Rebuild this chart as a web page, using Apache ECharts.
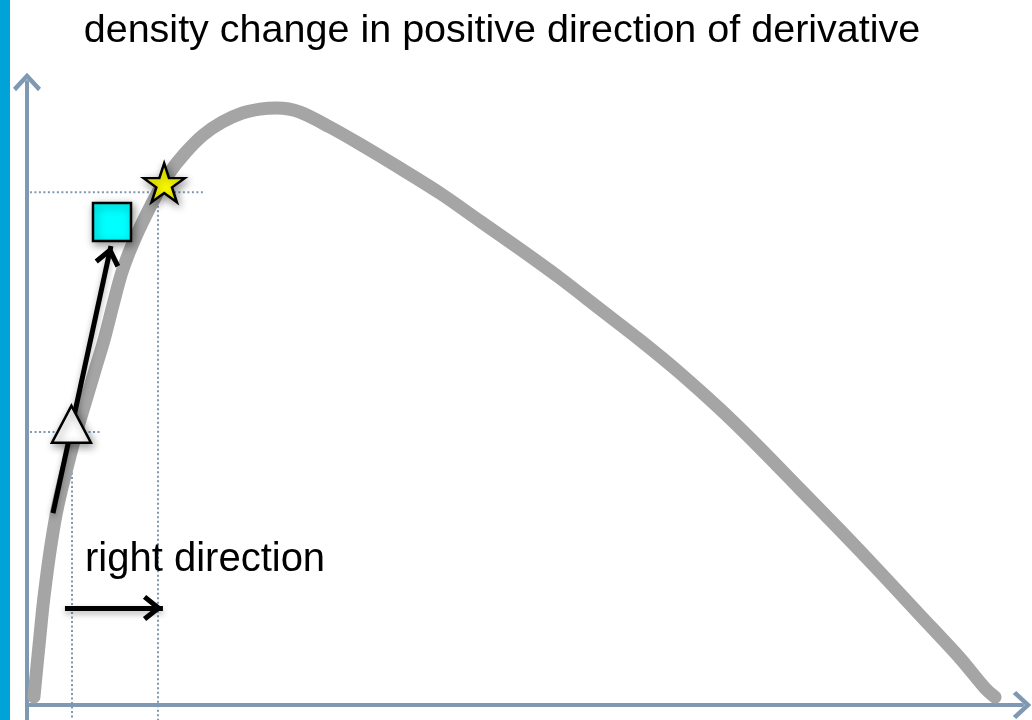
<!DOCTYPE html>
<html>
<head>
<meta charset="utf-8">
<script src="https://cdn.jsdelivr.net/npm/echarts@6/dist/echarts.min.js"></script>
<style>
  html, body { margin: 0; padding: 0; background: #ffffff; }
  #chart { width: 1032px; height: 720px; }
</style>
</head>
<body>
<div id="chart"></div>
<script>
// Density curve (x along the horizontal axis, y = density, peak ~ 1)
const curveX = [0.0072, 0.0104, 0.0135, 0.0166, 0.0207, 0.0248, 0.0300, 0.0362, 0.0435, 0.0518,
                0.0611, 0.0704, 0.0797, 0.0890, 0.0983, 0.1097, 0.1232, 0.1356, 0.1480, 0.1636,
                0.1822, 0.2019, 0.2226, 0.2412, 0.2588, 0.2826, 0.3137, 0.3447, 0.3861, 0.4275,
                0.4689, 0.5104, 0.5518, 0.5932, 0.6346, 0.6760, 0.7174, 0.7588, 0.8002, 0.8416,
                0.8830, 0.9244, 0.9658, 0.9917, 1.0021];
const curveY = [0.0134, 0.0671, 0.1174, 0.1677, 0.2214, 0.2683, 0.3186, 0.3639, 0.4109, 0.4612,
                0.5115, 0.5618, 0.6121, 0.6708, 0.7262, 0.7748, 0.8218, 0.8603, 0.8939, 0.9257,
                0.9559, 0.9777, 0.9928, 0.9995, 1.0012, 0.9945, 0.9693, 0.9408, 0.9005, 0.8586,
                0.8117, 0.7647, 0.7161, 0.6641, 0.6121, 0.5568, 0.4964, 0.4310, 0.3622, 0.2935,
                0.2230, 0.1509, 0.0788, 0.0285, 0.0134];

// Marked positions
const trianglePoint = [0.046, 0.471];
const squarePoint = [0.088, 0.810];
const starPoint = [0.142, 0.876];

// Dotted guides: corner point and horizontal extent
const starGuide = [0.1356, 0.860];
const starGuideSpan = [0.003, 0.184];
const triangleGuide = [0.0466, 0.458];
const triangleGuideSpan = [-0.0248, 0.0755];

// Arrows: [from, to]
const slopeArrow = [[0.0269, 0.322], [0.0869, 0.770]];
const stepArrow = [[0.0393, 0.163], [0.1407, 0.163]];

// Axis ranges
const xRange = [0, 1.03];
const yRange = [-0.025, 1.045];

const titleText = 'density change in positive direction of derivative';
const noteText = 'right direction';

const curveData = curveX.map((x, i) => [x, curveY[i]]);

// Open chevron heads (pointing up; rotated by the library along the line)
const axisHead = 'path://M14,0 L28,15 L25,18.5 L14,6.5 L3,18.5 L0,15 Z';
// tip sits at the centre of the box so it lands on the line end
const lineHead = 'path://M13,0 L13.01,0 Z M13,20 L26,36 L22.1,39.2 L13,27.9 L3.9,39.2 L0,36 Z';
const starShape = 'path://M50,0 L61.2,34.5 L97.6,34.5 L68.2,55.9 L79.4,90.5 L50,69.1 L20.6,90.5 L31.8,55.9 L2.4,34.5 L38.8,34.5 Z';

const guideColor = '#7f97b1';
const axisColor = '#7f99b3';
const FONT = '"Liberation Sans", Arial, Helvetica, sans-serif';

function guideSeries(corner, span) {
  const style = { color: guideColor, width: 2, type: [2, 2.5] };
  return [
    {
      type: 'line', silent: true, clip: false, symbol: 'none', z: 1,
      lineStyle: style,
      data: [[span[0], corner[1]], [span[1], corner[1]]]
    },
    {
      type: 'line', silent: true, clip: false, symbol: 'none', z: 1,
      lineStyle: style,
      data: [[corner[0], corner[1]], [corner[0], yRange[0]]]
    }
  ];
}

function arrowSeries(arrow) {
  return {
    type: 'line', silent: true, data: [], z: 4,
    markLine: {
      silent: true,
      animation: false,
      symbol: ['none', lineHead],
      symbolSize: [26, 40],
      label: { show: false },
      emphasis: { disabled: true },
      lineStyle: {
        color: '#000', width: 5, type: 'solid', opacity: 1,
        shadowBlur: 6, shadowColor: 'rgba(0,0,0,0.3)', shadowOffsetY: 3
      },
      data: [[{ coord: arrow[0] }, { coord: arrow[1] }]]
    }
  };
}

function markerStyle(fill) {
  return {
    color: fill, opacity: 1, borderColor: '#000', borderWidth: 2.5,
    shadowBlur: 8, shadowColor: 'rgba(0,0,0,0.4)', shadowOffsetX: 2, shadowOffsetY: 3
  };
}

const chart = echarts.init(document.getElementById('chart'), null, { renderer: 'canvas' });

chart.setOption({
  animation: false,
  backgroundColor: '#ffffff',
  grid: { left: 27, right: 10, top: 82, bottom: 0, outerBoundsMode: 'none', containLabel: false },
  xAxis: {
    type: 'value', min: xRange[0], max: xRange[1],
    axisLine: {
      show: true, onZero: true,
      symbol: ['none', axisHead], symbolSize: [28, 19],
      lineStyle: { color: axisColor, width: 4, cap: 'round' }
    },
    axisTick: { show: false }, axisLabel: { show: false }, splitLine: { show: false }
  },
  yAxis: {
    type: 'value', min: yRange[0], max: yRange[1],
    axisLine: {
      show: true, onZero: true,
      symbol: ['none', axisHead], symbolSize: [28, 19],
      lineStyle: { color: axisColor, width: 4, cap: 'round' }
    },
    axisTick: { show: false }, axisLabel: { show: false }, splitLine: { show: false }
  },
  graphic: [
    { type: 'rect', left: 0, top: 0, z: 10, shape: { width: 10, height: 720 }, style: { fill: '#00a3d7' } },
    {
      type: 'text', x: 502, y: 31, z: 10,
      style: { text: titleText, font: '39.5px ' + FONT, fill: '#000', align: 'center', verticalAlign: 'middle' }
    },
    {
      type: 'text', x: 85, y: 560, z: 10,
      style: { text: noteText, font: '40px ' + FONT, fill: '#000', align: 'left', verticalAlign: 'middle' }
    }
  ],
  series: [
    ...guideSeries(starGuide, starGuideSpan),
    ...guideSeries(triangleGuide, triangleGuideSpan),
    {
      type: 'line', silent: true, z: 2,
      data: curveData, smooth: 0.3, showSymbol: false, symbol: 'none',
      lineStyle: { color: '#a5a5a5', width: 13, cap: 'round', join: 'round' }
    },
    arrowSeries(slopeArrow),
    arrowSeries(stepArrow),
    {
      type: 'scatter', silent: true, z: 5,
      itemStyle: { opacity: 1 },
      data: [
        { value: trianglePoint, symbol: 'triangle', symbolSize: [39, 37], itemStyle: markerStyle('#ffffff') },
        { value: squarePoint, symbol: 'rect', symbolSize: [38, 38], itemStyle: markerStyle('#00ffff') },
        { value: starPoint, symbol: starShape, symbolSize: [41, 39], itemStyle: markerStyle('#ffff00') }
      ]
    }
  ]
});
</script>
</body>
</html>
